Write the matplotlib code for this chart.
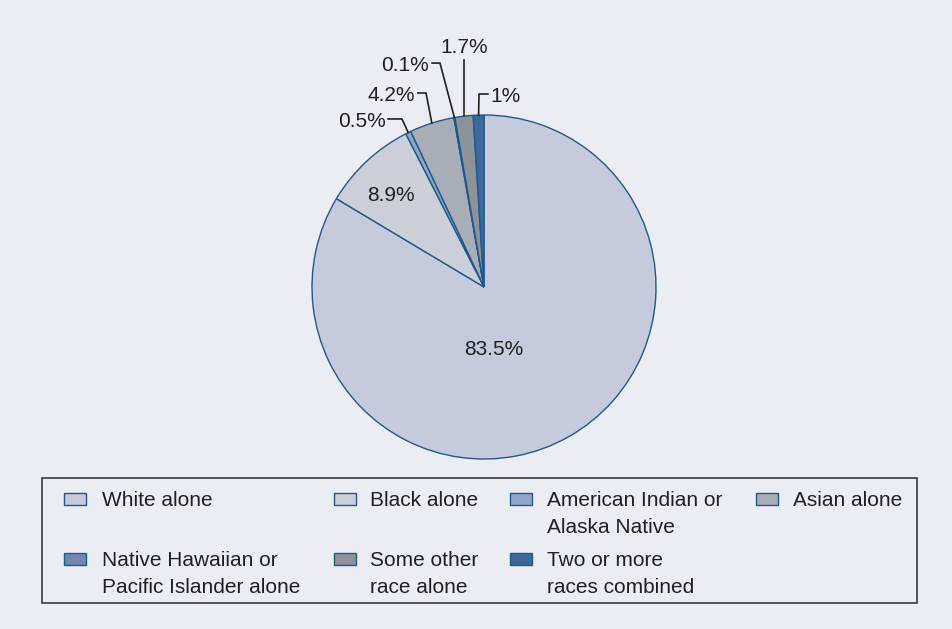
import numpy as np
import matplotlib.pyplot as plt
from matplotlib.patches import Rectangle

plt.rcParams['font.family'] = ['Liberation Sans', 'DejaVu Sans']

# Data
categories = ["White alone", "Black alone", "American Indian or\nAlaska Native",
              "Asian alone", "Native Hawaiian or\nPacific Islander alone",
              "Some other\nrace alone", "Two or more\nraces combined"]
values = [83.5, 8.9, 0.5, 4.2, 0.1, 1.7, 1.0]
value_labels = ["83.5%", "8.9%", "0.5%", "4.2%", "0.1%", "1.7%", "1%"]
colors = ["#c5cadd", "#cccfd7", "#8fa6c8", "#a8adb7", "#6f88ae", "#8e9299", "#3e699a"]

bg = "#ecedf3"
edge = "#1d5a8c"
ink = "#231f20"

W, H = 952, 629
fig = plt.figure(figsize=(W / 100, H / 100), dpi=100, facecolor=bg)

# pie centre and radius in pixels
cx, cy, r = 484, 287, 172
ax = fig.add_axes([0, 0, 1, 1])
ax.set_facecolor(bg)
ax.axis("off")

wedges, _ = ax.pie(values, colors=colors, startangle=90, counterclock=False,
                   radius=1.0, wedgeprops=dict(edgecolor=edge, linewidth=1.0))
ax.set_xlim(-cx / r, (W - cx) / r)
ax.set_ylim(-(H - cy) / r, cy / r)
ax.set_aspect("equal")

dy = -0.017  # small nudge so text sits like the original

# labels inside the big slices
ax.text(0.058, -0.349 + dy, value_labels[0], ha="center", va="center", fontsize=15, color=ink)
ax.text(-0.541, 0.547 + dy, value_labels[1], ha="center", va="center", fontsize=15, color=ink)

def mid_point(w):
    a = np.deg2rad((w.theta1 + w.theta2) / 2)
    return np.cos(a), np.sin(a)

# leader lines for small slices: (index, elbow, line end, text pos, ha)
leaders = [
    (2, (-0.477, 0.977), (-0.558, 0.977), (-0.572, 0.977), "right"),
    (3, (-0.337, 1.128), (-0.384, 1.128), (-0.40, 1.128), "right"),
    (4, (-0.256, 1.302), (-0.302, 1.302), (-0.318, 1.302), "right"),
    (6, (-0.029, 1.122), (0.023, 1.122), (0.035, 1.122), "left"),
]
for i, elbow, end, tpos, ha in leaders:
    x0, y0 = mid_point(wedges[i])
    ax.plot([x0, elbow[0], end[0]], [y0, elbow[1], end[1]], color=ink, lw=1.2)
    ax.text(tpos[0], tpos[1] + dy, value_labels[i], ha=ha, va="center", fontsize=15, color=ink)

x0, y0 = mid_point(wedges[5])
ax.plot([x0, x0], [y0, 1.32], color=ink, lw=1.2)
ax.text(x0, 1.407 + dy, value_labels[5], ha="center", va="center", fontsize=15, color=ink)

# legend drawn by hand so markers sit on the first text line
def fx(px):
    return px / W

def fy(py):
    return 1 - py / H

fig.patches.append(Rectangle((fx(42), fy(603)), fx(917) - fx(42), fy(478) - fy(603),
                             transform=fig.transFigure, facecolor="none",
                             edgecolor="#3a3a3a", lw=1.2))

col_x = [64, 334, 510, 756]
text_x = [102, 370, 547, 793]
row_y = [499, 559]
slots = [(0, 0), (0, 1), (0, 2), (0, 3), (1, 0), (1, 1), (1, 2)]
for (row, col), name, c in zip(slots, categories, colors):
    mx, my = col_x[col], row_y[row]
    fig.patches.append(Rectangle((fx(mx), fy(my + 6)), fx(22), 12 / H,
                                 transform=fig.transFigure, facecolor=c,
                                 edgecolor=edge, lw=1.0))
    for k, line in enumerate(name.split("\n")):
        fig.text(fx(text_x[col]), fy(my + 7 + 27 * k), line, ha="left", va="baseline",
                 fontsize=15, color=ink)

fig.savefig("out.png", dpi=100, facecolor=bg)
